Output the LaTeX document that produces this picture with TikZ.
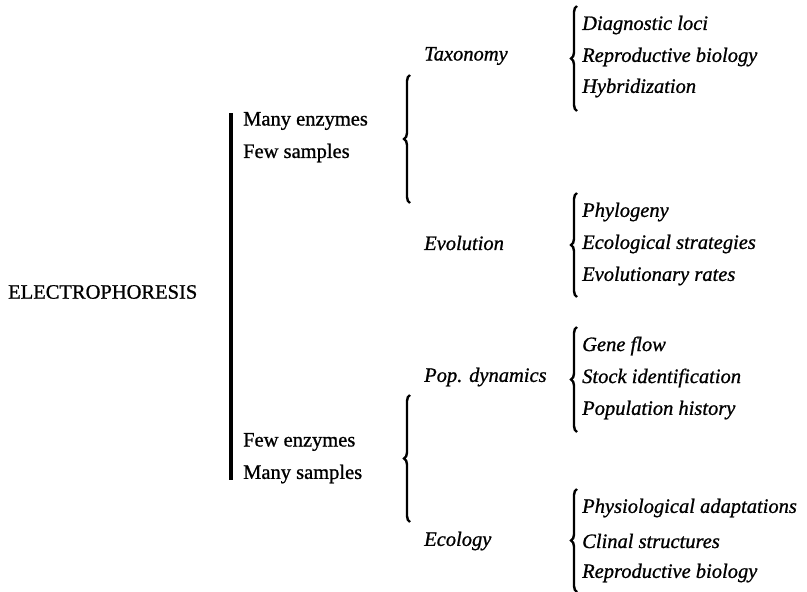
\documentclass[tikz,border=0pt]{standalone}
\usepackage{fontspec}
\setmainfont{Liberation Serif}[UprightFeatures={FakeBold=0.9},ItalicFeatures={FakeBold=0.9}]
\usetikzlibrary{decorations.pathreplacing}
\tikzset{
  lbl/.style={anchor=west,inner sep=0pt,font=\fontsize{20.5}{24}\selectfont},
  ilbl/.style={lbl,font=\fontsize{20.5}{24}\selectfont\itshape},
  brc/.style={decorate,decoration={brace,amplitude=6pt,aspect=0.5},line width=2.4pt},
  bar/.style={line width=4.5pt}
}
\begin{document}
\begin{tikzpicture}[x=1pt,y=-1pt]
\useasboundingbox (0,0) rectangle (807,592);
% root
\node[lbl] (root) at (8,292) {ELECTROPHORESIS};
\coordinate (bartop) at (231,113);
\coordinate (barbot) at (231,480);
\draw[bar] (bartop) -- (barbot);
% second column
\node[lbl] (me) at (243,121) {Many enzymes};
\node[lbl] (fs) at (243,153) {Few samples};
\node[lbl] (fe) at (243,442) {Few enzymes};
\node[lbl] (ms) at (243,474) {Many samples};
% middle braces
\coordinate (b1t) at (410,75);
\coordinate (b1b) at (410,203);
\coordinate (b2t) at (410,395);
\coordinate (b2b) at (410,522);
\draw[brc] (b1b) -- (b1t);
\draw[brc] (b2b) -- (b2t);
% third column
\node[ilbl] (tax) at (424,56) {Taxonomy};
\node[ilbl] (evo) at (424,243) {Evolution};
\node[ilbl] (pop) at (424,377) {Pop. dynamics};
\node[ilbl] (eco) at (424,541) {Ecology};
% list braces
\coordinate (l1t) at (577,6);   \coordinate (l1b) at (577,111);
\coordinate (l2t) at (577,193); \coordinate (l2b) at (577,297);
\coordinate (l3t) at (577,327); \coordinate (l3b) at (577,432);
\coordinate (l4t) at (577,489); \coordinate (l4b) at (577,592);
\draw[brc] (l1b) -- (l1t);
\draw[brc] (l2b) -- (l2t);
\draw[brc] (l3b) -- (l3t);
\draw[brc] (l4b) -- (l4t);
% fourth column
\node[ilbl] (a1) at (582,25) {Diagnostic loci};
\node[ilbl] (a2) at (582,57) {Reproductive biology};
\node[ilbl] (a3) at (582,88) {Hybridization};
\node[ilbl] (c1) at (582,212) {Phylogeny};
\node[ilbl] (c2) at (582,244) {Ecological strategies};
\node[ilbl] (c3) at (582,276) {Evolutionary rates};
\node[ilbl] (d1) at (582,346) {Gene flow};
\node[ilbl] (d2) at (582,378) {Stock identification};
\node[ilbl] (d3) at (582,410) {Population history};
\node[ilbl] (e1) at (582,508) {Physiological adaptations};
\node[ilbl] (e2) at (582,541) {Clinal structures};
\node[ilbl] (e3) at (582,573) {Reproductive biology};
\end{tikzpicture}
\end{document}
